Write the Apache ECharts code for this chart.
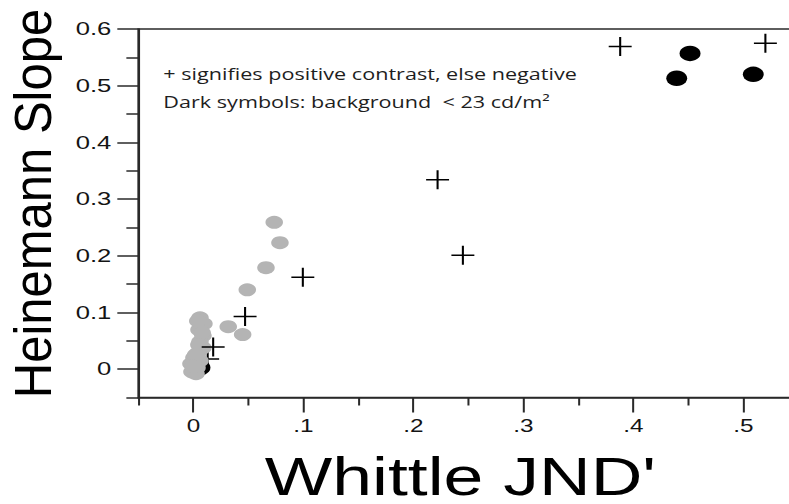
<!DOCTYPE html>
<html><head><meta charset="utf-8">
<script src="https://cdn.jsdelivr.net/npm/echarts@6/dist/echarts.min.js"></script>
<style>
html,body{margin:0;padding:0;background:#fff;overflow:hidden;width:789px;height:504px;}
#chart{width:600px;height:504px;transform:scaleX(1.35);transform-origin:0 0;}
</style></head><body><div id="chart"></div>
<script>
// Tick values and labels
const xMajorTicks = [0, 0.1, 0.2, 0.3, 0.4, 0.5];
const xTickLabels = ['0', '.1', '.2', '.3', '.4', '.5'];
const xMinorTicks = [-0.05, 0.05, 0.15, 0.25, 0.35, 0.45];
const yMajorTicks = [0, 0.1, 0.2, 0.3, 0.4, 0.5, 0.6];
const yTickLabels = ['0', '0.1', '0.2', '0.3', '0.4', '0.5', '0.6'];
const yMinorTicks = [-0.05, 0.05, 0.15, 0.25, 0.35, 0.45, 0.55];

// Data: [Whittle JND', Heinemann slope]
const positivePoints = [
  [0.388, 0.569], [0.520, 0.575], [0.222, 0.334], [0.245, 0.201],
  [0.0995, 0.162], [0.047, 0.093], [0.018, 0.039]
];
const positiveHiddenPoints = [[0.013, 0.018]];
const darkPoints = [[0.4515, 0.557], [0.4394, 0.513], [0.509, 0.520], [0.006, 0.0025]];
const lightPoints = [
  [0.0735, 0.259], [0.0787, 0.223], [0.066, 0.179], [0.049, 0.140],
  [0.0317, 0.075], [0.0448, 0.061],
  [0.006, 0.0905], [0.0096, 0.080], [0.0051, 0.0694], [0.0087, 0.0588],
  [0.006, 0.0483], [0.0087, 0.0377], [0.0042, 0.0289], [0.0005, 0.0201],
  [0.006, 0.0148], [-0.0022, 0.0095], [0.0033, 0.0025], [-0.0013, -0.0046],
  [0.0024, -0.0081],
  [0.004, 0.085], [0.008, 0.064], [0.005, 0.043], [0.002, 0.025], [0.0, 0.005]
];

const axisColor = '#2a2a2a';
const labelColor = '#141414';
const plusPath = 'path://M0,46H100V54H0Z M45.5,0H54.5V100H45.5Z';

function pick(ticks, labels) {
  return function (v) {
    const i = ticks.findIndex(t => Math.abs(t - v) < 1e-9);
    return i >= 0 ? labels[i] : '';
  };
}

function tickOnlyAxis(min, max, pos, values, len) {
  return {
    type: 'value', min: min, max: max, position: pos, offset: 0,
    axisLine: { show: false, onZero: false },
    axisTick: { show: true, customValues: values, length: len, lineStyle: { color: axisColor, width: 1.5 } },
    axisLabel: { show: false },
    splitLine: { show: false }
  };
}

const chart = echarts.init(document.getElementById('chart'), null, { renderer: 'svg' });
chart.setOption({
  animation: false,
  backgroundColor: '#fff',
  grid: {
    left: 102.5, right: 8.6, top: 29, bottom: 106.5,
    show: true, borderColor: axisColor, borderWidth: 1.5, backgroundColor: 'transparent'
  },
  xAxis: [
    {
      type: 'value', min: -0.05, max: 0.55, position: 'bottom', offset: 0,
      axisLine: { show: true, onZero: false, lineStyle: { color: axisColor, width: 1.5 } },
      axisTick: { show: false },
      axisLabel: {
        show: true, customValues: xMajorTicks, margin: 20,
        formatter: pick(xMajorTicks, xTickLabels),
        color: labelColor, fontFamily: 'Liberation Sans, Arial', fontSize: 18
      },
      splitLine: { show: false }
    },
    tickOnlyAxis(-0.05, 0.55, 'bottom', xMajorTicks, 15),
    tickOnlyAxis(-0.05, 0.55, 'bottom', xMinorTicks, 8)
  ],
  yAxis: [
    {
      type: 'value', min: -0.05, max: 0.6, position: 'left', offset: 0,
      axisLine: { show: true, onZero: false, lineStyle: { color: axisColor, width: 1.5 } },
      axisTick: { show: false },
      axisLabel: {
        show: true, customValues: yMajorTicks, margin: 20,
        formatter: pick(yMajorTicks, yTickLabels),
        color: labelColor, fontFamily: 'Liberation Sans, Arial', fontSize: 19
      },
      splitLine: { show: false }
    },
    tickOnlyAxis(-0.05, 0.6, 'left', yMajorTicks, 15.6),
    tickOnlyAxis(-0.05, 0.6, 'left', yMinorTicks, 8.9)
  ],
  series: [
    {
      type: 'scatter', data: positiveHiddenPoints, symbol: plusPath, symbolSize: [17, 19],
      itemStyle: { color: '#000', opacity: 1 }
    },
    {
      type: 'scatter', data: darkPoints, symbol: 'circle', symbolSize: 15.5,
      itemStyle: { color: '#000', opacity: 1 }
    },
    {
      type: 'scatter', data: lightPoints, symbol: 'circle', symbolSize: 13,
      itemStyle: { color: '#b4b4b4', opacity: 1 }
    },
    {
      type: 'scatter', data: positivePoints, symbol: plusPath, symbolSize: [17, 19],
      itemStyle: { color: '#000', opacity: 1 }
    }
  ],
  graphic: [
    {
      type: 'text', x: 121, y: 74,
      style: {
        text: '+ signifies positive contrast, else negative',
        font: '16px "Open Sans"', fill: '#1e1e1e', textAlign: 'left', textVerticalAlign: 'middle'
      }
    },
    {
      type: 'text', x: 121, y: 102,
      style: {
        text: 'Dark symbols: background  < 23 cd/m²',
        font: '16px "Open Sans"', fill: '#1e1e1e', textAlign: 'left', textVerticalAlign: 'middle'
      }
    },
    {
      type: 'text', x: 341, y: 476,
      style: {
        text: "Whittle JND'",
        font: '53px "Liberation Sans", Arial', fill: '#000', textAlign: 'center', textVerticalAlign: 'middle'
      }
    },
    {
      type: 'text', x: 24.8, y: 203.5, rotation: Math.PI / 2, scaleX: 1.0, scaleY: 0.78,
      style: {
        text: 'Heinemann Slope',
        font: '49px "Liberation Sans", Arial', fill: '#000', textAlign: 'center', textVerticalAlign: 'middle'
      }
    }
  ]
});
</script></body></html>
